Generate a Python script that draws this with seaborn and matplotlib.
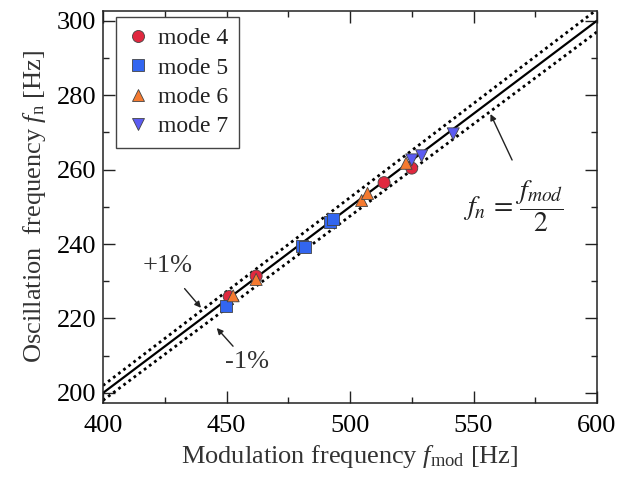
import matplotlib
matplotlib.use("Agg")
import matplotlib.pyplot as plt
import numpy as np
import pandas as pd
import seaborn as sns

# data
mode4_x = [451.1, 462.0, 513.8, 525.0]
mode4_y = [225.9, 231.4, 256.5, 260.4]
mode5_x = [449.8, 480.4, 481.8, 491.9, 493.0]
mode5_y = [223.4, 239.5, 239.3, 246.0, 246.7]
mode6_x = [452.7, 462.0, 504.7, 507.1, 522.7]
mode6_y = [226.1, 230.5, 251.7, 253.6, 261.7]
mode7_x = [525.0, 529.0, 541.8]
mode7_y = [262.6, 263.7, 269.6]

modes = ["mode 4", "mode 5", "mode 6", "mode 7"]
fmod_line = [400, 600]
tolerance = 0.01

rows = []
for name, xs, ys in zip(modes, [mode4_x, mode5_x, mode6_x, mode7_x],
                        [mode4_y, mode5_y, mode6_y, mode7_y]):
    for x, y in zip(xs, ys):
        rows.append({"fmod": x, "fn": y, "mode": name})
df = pd.DataFrame(rows)

line_df = pd.DataFrame({"fmod": fmod_line})
line_df["fn"] = line_df["fmod"] / 2
line_df["up"] = line_df["fn"] * (1 + tolerance)
line_df["lo"] = line_df["fn"] * (1 - tolerance)

sns.set_style("ticks")
plt.rcParams["font.family"] = ["Liberation Serif", "DejaVu Serif"]
plt.rcParams["mathtext.fontset"] = "custom"
plt.rcParams["mathtext.rm"] = "Liberation Serif"
plt.rcParams["mathtext.it"] = "Liberation Serif:italic"

PALETTE = {"mode 4": "#E0283F", "mode 5": "#3366F0", "mode 6": "#F57A30", "mode 7": "#5B5BF2"}
MARKERS = {"mode 4": "o", "mode 5": "s", "mode 6": "^", "mode 7": "v"}

fig = plt.figure(figsize=(6.29, 4.79), dpi=100)
ax = fig.add_axes([103 / 629, 1 - 403 / 479, 494 / 629, 392 / 479])

sns.lineplot(data=line_df, x="fmod", y="fn", color="black", lw=1.6, ax=ax)
sns.lineplot(data=line_df, x="fmod", y="up", color="black", lw=2.0,
             linestyle=(0, (1, 1.3)), ax=ax)
sns.lineplot(data=line_df, x="fmod", y="lo", color="black", lw=2.0,
             linestyle=(0, (1, 1.3)), ax=ax)

sns.scatterplot(data=df, x="fmod", y="fn", hue="mode", style="mode",
                palette=PALETTE, markers=MARKERS, s=75, edgecolor="#444444",
                linewidth=0.6, zorder=5, ax=ax)

ax.set_xlim(400, 600)
ax.set_ylim(197.3, 302.6)
ax.set_xticks([400, 450, 500, 550, 600])
ax.set_xticks(np.arange(425, 600, 50), minor=True)
ax.set_yticks([200, 220, 240, 260, 280, 300])
ax.set_yticks(np.arange(210, 300, 20), minor=True)
ax.tick_params(which="both", direction="in", top=True, right=True,
               colors="#222222", labelcolor="black")
ax.tick_params(which="major", length=8.5, width=1.0)
ax.tick_params(which="minor", length=4.5, width=1.0)
ax.tick_params(axis="x", labelsize=19, pad=9)
ax.tick_params(axis="y", labelsize=19, pad=5)
for sp in ax.spines.values():
    sp.set_linewidth(1.1)
    sp.set_color("#222222")

ax.set_xlabel(r"Modulation frequency $f_{\mathrm{mod}}$ [Hz]", fontsize=19,
              color="#333333", labelpad=4)
ax.set_ylabel(r"Oscillation  frequency $f_{\mathrm{n}}$ [Hz]", fontsize=19,
              color="#333333", labelpad=6)

# rebuild the legend without seaborn's title
handles, labels = ax.get_legend_handles_labels()
pairs = [(h, l) for h, l in zip(handles, labels) if l in modes]
leg = ax.legend([p[0] for p in pairs], [p[1] for p in pairs],
                loc="upper left", bbox_to_anchor=(0.0257, 0.984),
                borderaxespad=0, fontsize=17, frameon=True, fancybox=False,
                edgecolor="#444444", framealpha=1, labelspacing=0.33,
                handletextpad=0.35, borderpad=0.45, handlelength=1.0)
leg.get_frame().set_linewidth(1.0)
for t in leg.get_texts():
    t.set_color("#222222")

arrow = dict(arrowstyle="-|>", color="#222222", lw=1.0, mutation_scale=9)
ax.annotate("", xy=(440.4, 222.3), xytext=(432.3, 228.6), arrowprops=arrow)
ax.text(426.1, 234.0, "+1%", fontsize=19, color="#333333", ha="center", va="center")
ax.annotate("", xy=(445.3, 218.0), xytext=(453.4, 212.0), arrowprops=arrow)
ax.text(458.1, 208.2, "-1%", fontsize=19, color="#333333", ha="center", va="center")
ax.annotate("", xy=(556.4, 275.6), xytext=(566.1, 261.9), arrowprops=arrow)
ax.text(566.0, 250.1, r"$f_n\,=\,\dfrac{f_{mod}}{2}$", fontsize=20, color="#222222",
        ha="center", va="center", math_fontfamily="stix")

fig.savefig("out.png", dpi=100)
